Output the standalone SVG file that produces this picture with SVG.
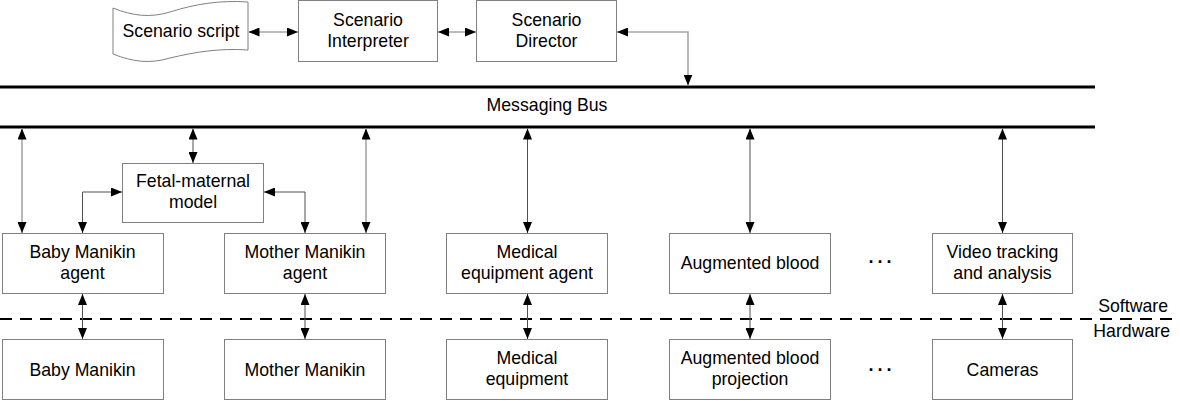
<svg xmlns="http://www.w3.org/2000/svg" width="1180" height="401" viewBox="0 0 1180 401">
<style>
  .box { fill: #ffffff; stroke: #808080; stroke-width: 1; }
  .t { font-family: "Liberation Sans", Arial, sans-serif; font-size: 17.7px; fill: #000000; text-anchor: middle; }
  .r { text-anchor: end; }
  .dots { font-weight: bold; font-size: 18px; letter-spacing: 3px; }
  .bus { stroke: #000000; stroke-width: 3; fill: none; }
  .lg { stroke: #a6a6a6; stroke-width: 1.6; fill: none; marker-start: url(#ah); marker-end: url(#ah); }
  .dk { stroke: #505050; stroke-width: 1; fill: none; marker-start: url(#ah); marker-end: url(#ah); }
  .dash { stroke: #000000; stroke-width: 2; stroke-dasharray: 12 8; fill: none; }
</style>
<defs>
  <marker id="ah" markerUnits="userSpaceOnUse" markerWidth="11" markerHeight="9" viewBox="0 0 11 9" refX="11" refY="4.5" orient="auto-start-reverse">
    <path d="M0,0 L11,4.5 L0,9 Z" fill="#000000"/>
  </marker>
</defs>
<rect width="1180" height="401" fill="#ffffff"/>

<g id="bus">
  <line class="bus" x1="0" y1="87" x2="1095" y2="87"/>
  <line class="bus" x1="0" y1="127" x2="1095" y2="127"/>
  <text class="t" x="547" y="111">Messaging Bus</text>
</g>

<g id="divider">
  <line class="dash" x1="0" y1="319" x2="1180" y2="319"/>
  <text class="t r" x="1168" y="312">Software</text>
  <text class="t r" x="1170" y="337">Hardware</text>
</g>

<g id="scenario-script">
  <path class="box" d="M113,8 C133,16 150,18 170,12 C195,4 220,0 248,2 L248,50 C220,48 195,52 170,58 C150,64 133,62 113,54 Z"/>
  <text class="t" x="181" y="37">Scenario script</text>
</g>
<g id="scenario-interpreter">
  <rect class="box" x="298.5" y="0.5" width="139" height="61"/>
  <text class="t" x="368" y="26">Scenario</text>
  <text class="t" x="368" y="47">Interpreter</text>
</g>
<g id="scenario-director">
  <rect class="box" x="476.5" y="0.5" width="140" height="61"/>
  <text class="t" x="546.5" y="26">Scenario</text>
  <text class="t" x="546.5" y="47">Director</text>
</g>

<g id="fetal-maternal-model">
  <rect class="box" x="122.5" y="163.5" width="141" height="59"/>
  <text class="t" x="193" y="187">Fetal-maternal</text>
  <text class="t" x="193" y="208">model</text>
</g>

<g id="baby-manikin-agent">
  <rect class="box" x="2.5" y="233.5" width="161" height="60"/>
  <text class="t" x="82.5" y="258">Baby Manikin</text>
  <text class="t" x="82.5" y="279">agent</text>
</g>
<g id="mother-manikin-agent">
  <rect class="box" x="224.5" y="233.5" width="161" height="60"/>
  <text class="t" x="305" y="258">Mother Manikin</text>
  <text class="t" x="305" y="279">agent</text>
</g>
<g id="medical-equipment-agent">
  <rect class="box" x="446.5" y="233.5" width="161" height="60"/>
  <text class="t" x="527" y="258">Medical</text>
  <text class="t" x="527" y="279">equipment agent</text>
</g>
<g id="augmented-blood">
  <rect class="box" x="669.5" y="233.5" width="161" height="60"/>
  <text class="t" x="750" y="269">Augmented blood</text>
</g>
<g id="video-tracking">
  <rect class="box" x="932.5" y="233.5" width="140" height="60"/>
  <text class="t" x="1002.5" y="258">Video tracking</text>
  <text class="t" x="1002.5" y="279">and analysis</text>
</g>
<g id="dots-software">
  <text class="t dots" x="882" y="268">···</text>
</g>

<g id="baby-manikin">
  <rect class="box" x="2.5" y="339.5" width="161" height="60"/>
  <text class="t" x="82.5" y="376">Baby Manikin</text>
</g>
<g id="mother-manikin">
  <rect class="box" x="224.5" y="339.5" width="161" height="60"/>
  <text class="t" x="305" y="376">Mother Manikin</text>
</g>
<g id="medical-equipment">
  <rect class="box" x="446.5" y="339.5" width="161" height="60"/>
  <text class="t" x="527" y="364">Medical</text>
  <text class="t" x="527" y="385">equipment</text>
</g>
<g id="augmented-blood-projection">
  <rect class="box" x="669.5" y="339.5" width="161" height="60"/>
  <text class="t" x="750" y="364">Augmented blood</text>
  <text class="t" x="750" y="385">projection</text>
</g>
<g id="cameras">
  <rect class="box" x="932.5" y="339.5" width="140" height="60"/>
  <text class="t" x="1002.5" y="376">Cameras</text>
</g>
<g id="dots-hardware">
  <text class="t dots" x="882" y="376">···</text>
</g>

<g id="connectors">
  <line class="lg" x1="248.5" y1="32" x2="298" y2="32"/>
  <line class="lg" x1="438" y1="32" x2="476" y2="32"/>
  <path class="lg" d="M617,32 L688,32 L688,85.5"/>
  <line class="lg" x1="22" y1="128.5" x2="22" y2="233"/>
  <line class="dk" x1="193" y1="128.5" x2="193" y2="163"/>
  <line class="lg" x1="366" y1="128.5" x2="366" y2="233"/>
  <path class="dk" d="M122,192 L82.5,192 L82.5,233"/>
  <path class="dk" d="M264,192 L305,192 L305,233"/>
  <line class="dk" x1="527.5" y1="128.5" x2="527.5" y2="233"/>
  <line class="dk" x1="750" y1="128.5" x2="750" y2="233"/>
  <line class="dk" x1="1002.5" y1="128.5" x2="1002.5" y2="233"/>
  <line class="dk" x1="82.5" y1="294" x2="82.5" y2="339"/>
  <line class="dk" x1="305" y1="294" x2="305" y2="339"/>
  <line class="dk" x1="527.5" y1="294" x2="527.5" y2="339"/>
  <line class="dk" x1="750" y1="294" x2="750" y2="339"/>
  <line class="dk" x1="1002.5" y1="294" x2="1002.5" y2="339"/>
</g>
</svg>
